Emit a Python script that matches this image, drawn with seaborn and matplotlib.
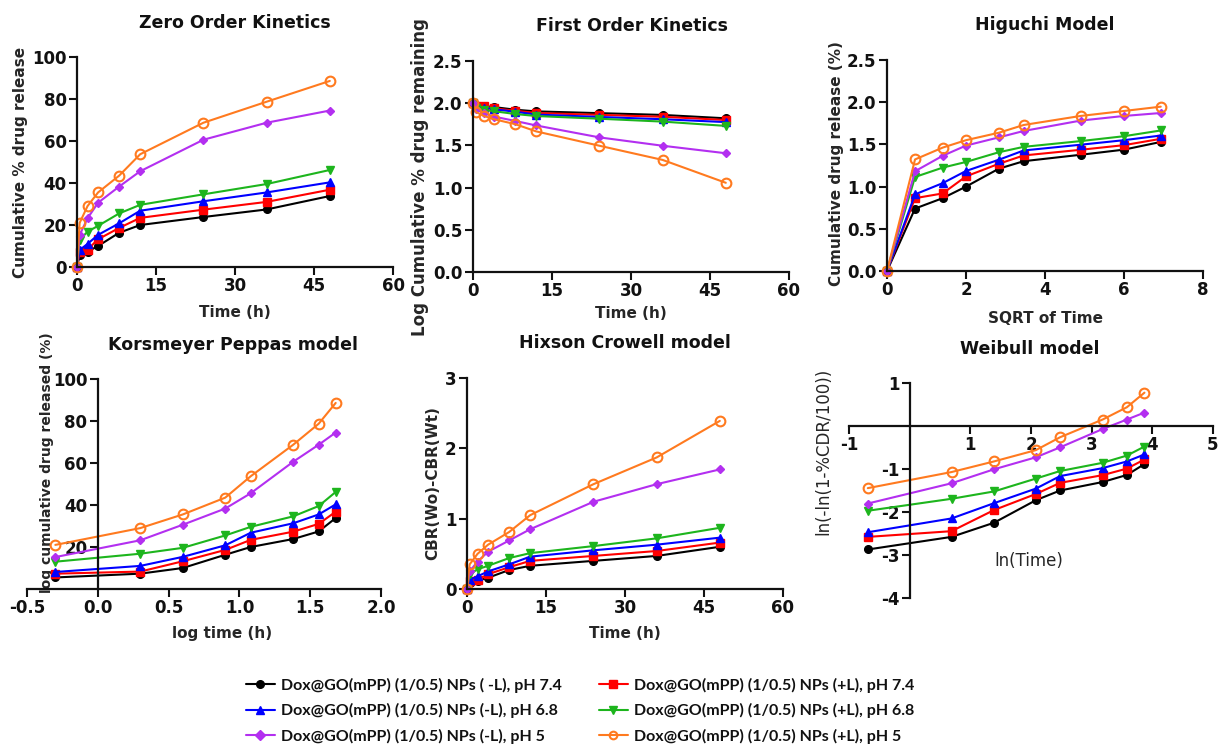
import matplotlib
matplotlib.use("Agg")
import matplotlib.pyplot as plt
import seaborn as sns
from matplotlib.ticker import FormatStrFormatter, FixedLocator

sns.set_style("ticks")
plt.rcParams["font.family"] = ["DejaVu Sans"]
plt.rcParams["font.weight"] = "bold"
plt.rcParams["axes.labelweight"] = "bold"
plt.rcParams["axes.titleweight"] = "bold"
plt.rcParams["axes.unicode_minus"] = False

# ---- formulations (legend order) ----
series_labels = [
    "Dox@GO(mPP) (1/0.5) NPs ( -L), pH 7.4",
    "Dox@GO(mPP) (1/0.5) NPs (+L), pH 7.4",
    "Dox@GO(mPP) (1/0.5) NPs (-L), pH 6.8",
    "Dox@GO(mPP) (1/0.5) NPs (+L), pH 6.8",
    "Dox@GO(mPP) (1/0.5) NPs (-L), pH 5",
    "Dox@GO(mPP) (1/0.5) NPs (+L), pH 5",
]
series_colors = ["#000000", "#ff0000", "#0000ff", "#1db51d", "#b32ff0", "#ff7a1f"]
series_markers = ["o", "s", "^", "v", "D", "o"]

# ---- x values ----
time_h = [0, 0.5, 2, 4, 8, 12, 24, 36, 48]
sqrt_time = [0, 0.71, 1.41, 2.0, 2.83, 3.46, 4.90, 6.0, 6.93]
log_time = [-0.30, 0.30, 0.60, 0.90, 1.08, 1.38, 1.56, 1.68]
ln_time = [-0.69, 0.69, 1.39, 2.08, 2.48, 3.18, 3.58, 3.87]

# ---- cumulative % drug release ----
zero_order = [
    [0, 5.5, 7.3, 10.0, 16.3, 20.0, 23.8, 27.4, 33.8],
    [0, 7.3, 8.3, 13.2, 18.6, 23.4, 27.3, 31.0, 36.8],
    [0, 8.1, 11.0, 15.3, 20.8, 26.8, 31.3, 35.5, 40.3],
    [0, 13.0, 16.8, 19.6, 25.5, 29.6, 34.6, 39.5, 46.2],
    [0, 15.2, 23.2, 30.6, 38.3, 45.6, 60.6, 68.7, 74.5],
    [0, 21.0, 29.0, 35.5, 43.5, 53.7, 68.7, 78.7, 88.6],
]

# ---- log cumulative % drug remaining ----
first_order = [
    [2.00, 1.975, 1.967, 1.954, 1.923, 1.903, 1.882, 1.861, 1.821],
    [2.00, 1.967, 1.962, 1.939, 1.911, 1.884, 1.862, 1.839, 1.801],
    [2.00, 1.963, 1.949, 1.928, 1.899, 1.865, 1.837, 1.810, 1.776],
    [2.00, 1.940, 1.920, 1.905, 1.872, 1.848, 1.816, 1.782, 1.731],
    [2.00, 1.928, 1.885, 1.841, 1.790, 1.736, 1.595, 1.496, 1.407],
    [2.00, 1.898, 1.851, 1.810, 1.752, 1.666, 1.496, 1.328, 1.057],
]

# ---- Higuchi: cumulative drug release vs sqrt(t) ----
higuchi = [
    [0, 0.740, 0.863, 1.000, 1.212, 1.301, 1.377, 1.438, 1.529],
    [0, 0.863, 0.919, 1.121, 1.270, 1.369, 1.436, 1.491, 1.566],
    [0, 0.908, 1.041, 1.185, 1.318, 1.428, 1.496, 1.550, 1.605],
    [0, 1.114, 1.225, 1.292, 1.407, 1.471, 1.539, 1.597, 1.665],
    [0, 1.182, 1.365, 1.486, 1.583, 1.659, 1.782, 1.837, 1.872],
    [0, 1.322, 1.462, 1.550, 1.638, 1.730, 1.837, 1.896, 1.947],
]

# ---- Korsmeyer-Peppas ----
korsmeyer = [
    [5.5, 7.3, 10.0, 16.3, 20.0, 23.8, 27.4, 33.8],
    [7.3, 8.3, 13.2, 18.6, 23.4, 27.3, 31.0, 36.8],
    [8.1, 11.0, 15.3, 20.8, 26.8, 31.3, 35.5, 40.3],
    [13.0, 16.8, 19.6, 25.5, 29.6, 34.6, 39.5, 46.2],
    [15.2, 23.2, 30.6, 38.3, 45.6, 60.6, 68.7, 74.5],
    [21.0, 29.0, 35.5, 43.5, 53.7, 68.7, 78.7, 88.6],
]

# ---- Hixson-Crowell ----
hixson = [
    [0, 0.09, 0.12, 0.16, 0.27, 0.33, 0.40, 0.47, 0.60],
    [0, 0.12, 0.13, 0.21, 0.31, 0.40, 0.47, 0.54, 0.66],
    [0, 0.13, 0.18, 0.25, 0.35, 0.46, 0.55, 0.63, 0.73],
    [0, 0.21, 0.28, 0.33, 0.44, 0.51, 0.61, 0.72, 0.87],
    [0, 0.25, 0.39, 0.53, 0.69, 0.85, 1.24, 1.49, 1.70],
    [0, 0.35, 0.50, 0.63, 0.81, 1.05, 1.49, 1.87, 2.39],
]

# ---- Weibull ----
weibull = [
    [-2.872, -2.579, -2.250, -1.726, -1.500, -1.303, -1.139, -0.885],
    [-2.579, -2.446, -1.955, -1.581, -1.322, -1.143, -0.991, -0.779],
    [-2.471, -2.150, -1.795, -1.456, -1.165, -0.980, -0.824, -0.662],
    [-1.971, -1.693, -1.522, -1.223, -1.047, -0.856, -0.688, -0.478],
    [-1.803, -1.332, -1.007, -0.728, -0.496, -0.071, 0.150, 0.312],
    [-1.445, -1.071, -0.824, -0.561, -0.261, 0.150, 0.436, 0.775],
]

W, H = 1224, 744
fig = plt.figure(figsize=(W / 100, H / 100), dpi=100)

TITLE_FS = 12.5
LABEL_FS = 11
TICK_FS = 12


def add_axes(x0, y0, x1, y1):
    """Axes from pixel box (left, top, right, bottom)."""
    return fig.add_axes([x0 / W, 1 - y1 / H, (x1 - x0) / W, (y1 - y0) / H])


def panel_title(text, xc, yc):
    fig.text(xc / W, 1 - yc / H, text, ha="center", va="center",
             fontsize=TITLE_FS, fontweight="bold", color="#111111")


def draw_series(ax, xs, ys_list):
    for i, ys in enumerate(ys_list):
        open_marker = i == 5
        if open_marker:
            msize = 7
        elif series_markers[i] == "D":
            msize = 4.5
        else:
            msize = 5.5
        sns.lineplot(
            x=xs, y=ys, ax=ax, sort=False, label=series_labels[i],
            color=series_colors[i],
            marker=series_markers[i],
            markersize=msize,
            markerfacecolor="none" if open_marker else series_colors[i],
            markeredgecolor=series_colors[i],
            markeredgewidth=1.5 if open_marker else 1.0,
            linewidth=1.5,
            clip_on=False,
        )
    if ax.get_legend() is not None:
        ax.get_legend().remove()


def style_axes(ax, tick_weight="bold"):
    for s in ["top", "right"]:
        ax.spines[s].set_visible(False)
    for s in ["left", "bottom"]:
        ax.spines[s].set_linewidth(1.6)
        ax.spines[s].set_color("#111111")
    ax.tick_params(width=1.5, length=5.5, labelsize=TICK_FS, colors="#111111", pad=2)
    for lab in ax.get_xticklabels() + ax.get_yticklabels():
        lab.set_fontweight(tick_weight)


# 1. Zero order
ax1 = add_axes(77, 57, 393, 267)
draw_series(ax1, time_h, zero_order)
ax1.set_xlim(0, 60)
ax1.set_ylim(0, 100)
ax1.set_xticks([0, 15, 30, 45, 60])
ax1.set_yticks([0, 20, 40, 60, 80, 100])
ax1.set_xlabel("Time (h)", fontsize=LABEL_FS)
ax1.set_ylabel("Cumulative % drug release", fontsize=LABEL_FS)
style_axes(ax1)
ax1.xaxis.set_label_coords(0.5, -0.18)
ax1.yaxis.set_label_coords(-0.155, 0.5)
panel_title("Zero Order Kinetics", 235, 23)

# 2. First order
ax2 = add_axes(473, 61, 789, 272)
draw_series(ax2, time_h, first_order)
ax2.set_xlim(0, 60)
ax2.set_ylim(0, 2.5)
ax2.set_xticks([0, 15, 30, 45, 60])
ax2.set_yticks([0, 0.5, 1.0, 1.5, 2.0, 2.5])
ax2.yaxis.set_major_formatter(FormatStrFormatter("%.1f"))
ax2.set_xlabel("Time (h)", fontsize=LABEL_FS)
ax2.set_ylabel("Log Cumulative % drug remaining", fontsize=12)
style_axes(ax2)
ax2.xaxis.set_label_coords(0.5, -0.16)
ax2.yaxis.set_label_coords(-0.14, 0.45)
panel_title("First Order Kinetics", 632, 26)

# 3. Higuchi
ax3 = add_axes(887, 60, 1203, 271)
draw_series(ax3, sqrt_time, higuchi)
ax3.set_xlim(0, 8)
ax3.set_ylim(0, 2.5)
ax3.set_xticks([0, 2, 4, 6, 8])
ax3.set_yticks([0, 0.5, 1.0, 1.5, 2.0, 2.5])
ax3.yaxis.set_major_formatter(FormatStrFormatter("%.1f"))
ax3.set_xlabel("SQRT of Time", fontsize=LABEL_FS)
ax3.set_ylabel("Cumulative drug release (%)", fontsize=LABEL_FS)
style_axes(ax3)
ax3.xaxis.set_label_coords(0.5, -0.19)
ax3.yaxis.set_label_coords(-0.135, 0.51)
panel_title("Higuchi Model", 1045, 25)

# 4. Korsmeyer-Peppas
ax4 = add_axes(27, 379, 381, 589)
draw_series(ax4, log_time, korsmeyer)
ax4.set_xlim(-0.5, 2.0)
ax4.set_ylim(0, 100)
ax4.spines["left"].set_position(("data", 0))
ax4.set_xticks([-0.5, 0.0, 0.5, 1.0, 1.5, 2.0])
ax4.xaxis.set_major_formatter(FormatStrFormatter("%.1f"))
ax4.set_yticks([20, 40, 60, 80, 100])
ax4.set_xlabel("log time (h)", fontsize=LABEL_FS)
ax4.set_ylabel("log cumulative drug released (%)", fontsize=10)
style_axes(ax4)
ax4.xaxis.set_label_coords(0.55, -0.175)
ax4.yaxis.set_label_coords(0.075, 0.6)
panel_title("Korsmeyer Peppas model", 233, 345)

# 5. Hixson-Crowell
ax5 = add_axes(467, 378, 783, 589)
draw_series(ax5, time_h, hixson)
ax5.set_xlim(0, 60)
ax5.set_ylim(0, 3)
ax5.set_xticks([0, 15, 30, 45, 60])
ax5.set_yticks([0, 1, 2, 3])
ax5.set_xlabel("Time (h)", fontsize=LABEL_FS)
ax5.set_ylabel("CBR(Wo)-CBR(Wt)", fontsize=LABEL_FS)
style_axes(ax5)
ax5.xaxis.set_label_coords(0.5, -0.175)
ax5.yaxis.set_label_coords(-0.085, 0.5)
panel_title("Hixson Crowell model", 625, 343)

# 6. Weibull
ax6 = add_axes(849, 383, 1213, 598)
draw_series(ax6, ln_time, weibull)
ax6.set_xlim(-1, 5)
ax6.set_ylim(-4, 1)
ax6.spines["left"].set_position(("data", 0))
ax6.spines["bottom"].set_position(("data", 0))
ax6.xaxis.set_major_locator(FixedLocator([-1, 1, 2, 3, 4, 5]))
ax6.yaxis.set_major_locator(FixedLocator([-4, -3, -2, -1, 1]))
ax6.set_xlabel("ln(Time)", fontsize=12, fontweight="normal")
ax6.set_ylabel("ln(-ln(1-%CDR/100))", fontsize=12, fontweight="normal")
style_axes(ax6)
ax6.xaxis.set_label_coords(0.495, 0.215)
ax6.yaxis.set_label_coords(-0.045, 0.68)
panel_title("Weibull model", 1030, 349)

# shared legend, two columns
handles, labels = ax1.get_legend_handles_labels()
order = [0, 2, 4, 1, 3, 5]
leg = fig.legend(
    [handles[i] for i in order],
    [labels[i] for i in order],
    loc="upper left",
    bbox_to_anchor=(246 / W, 1 - 678 / H),
    borderaxespad=0,
    borderpad=0,
    ncol=2,
    frameon=False,
    handlelength=1.8,
    handletextpad=0.4,
    columnspacing=2.3,
    labelspacing=0.64,
    prop={"family": ["Lato", "DejaVu Sans"], "weight": "bold", "size": 11.5},
)
for h in leg.legend_handles:
    h.set_markersize(5.5)
for t in leg.get_texts():
    t.set_color("#111111")

fig.savefig("out.png", dpi=100, facecolor="white")
